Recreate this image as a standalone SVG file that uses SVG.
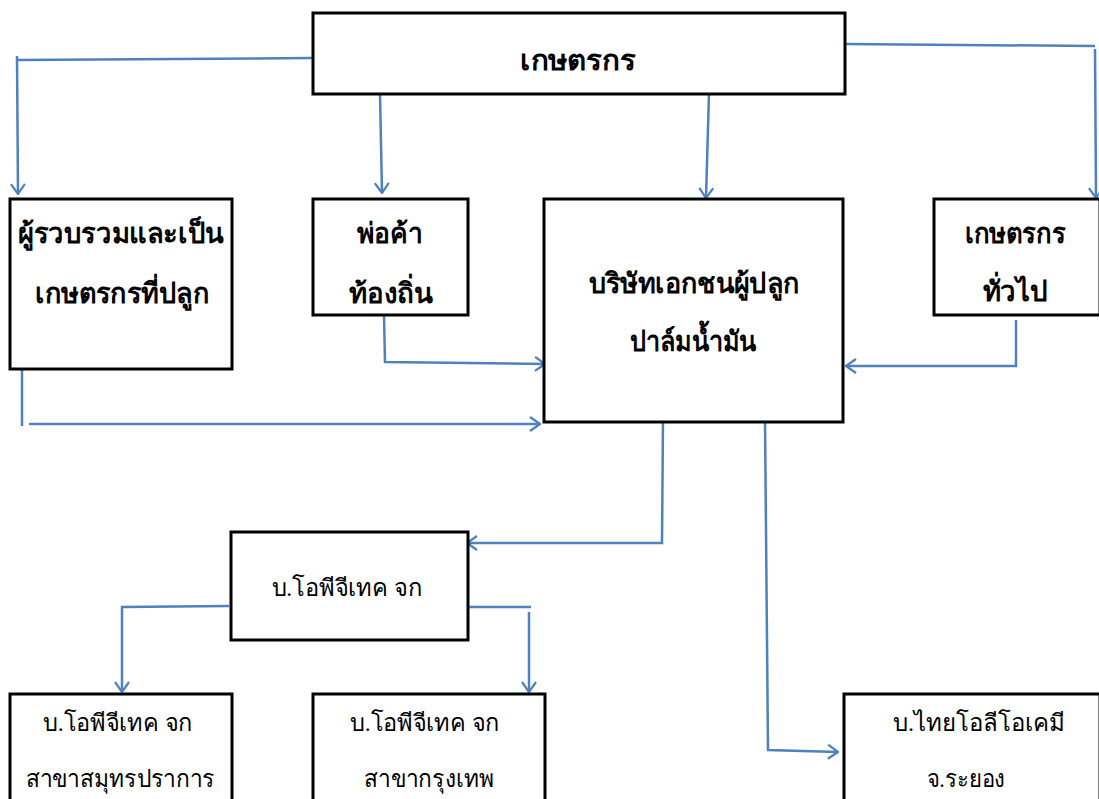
<svg xmlns="http://www.w3.org/2000/svg" width="1099" height="799" viewBox="0 0 1099 799">
<defs>
<marker id="ah" viewBox="0 0 12 16" refX="11" refY="8" markerWidth="12" markerHeight="16" markerUnits="userSpaceOnUse" orient="auto">
<path d="M1,1 L11,8 L1,15" fill="none" stroke="#4F81BD" stroke-width="2.2"/>
</marker>
<style>
.box{fill:#fff;stroke:#000;stroke-width:3}
.ln{fill:none;stroke:#4F81BD;stroke-width:2.5}
.t{font-family:"Liberation Serif","Noto Sans",serif;fill:#000;text-anchor:middle}
.b{font-weight:bold;font-size:28px}
.r{font-size:24px}
</style>
</defs>
<rect width="1099" height="799" fill="#fff"/>
<g id="connectors">
<polyline class="ln" points="313,58 17,60"/>
<line class="ln" x1="17" y1="56" x2="18" y2="194" marker-end="url(#ah)"/>
<line class="ln" x1="380" y1="95" x2="382" y2="193" marker-end="url(#ah)"/>
<line class="ln" x1="709" y1="93" x2="706" y2="198" marker-end="url(#ah)"/>
<polyline class="ln" points="845,44 1095,46"/>
<line class="ln" x1="1095" y1="49" x2="1096" y2="198" marker-end="url(#ah)"/>
<line class="ln" x1="22" y1="369" x2="22" y2="426"/>
<line class="ln" x1="29" y1="424" x2="540" y2="424" marker-end="url(#ah)"/>
<polyline class="ln" points="384,315 385,362 545,364" marker-end="url(#ah)"/>
<polyline class="ln" points="1016,320 1016,366 846,366" marker-end="url(#ah)"/>
<polyline class="ln" points="663,419 662,543 467,543" marker-end="url(#ah)"/>
<polyline class="ln" points="765,421 768,750 838,752" marker-end="url(#ah)"/>
<polyline class="ln" points="229,606 122,607 122,692" marker-end="url(#ah)"/>
<polyline class="ln" points="468,607 531,607"/>
<line class="ln" x1="529" y1="612" x2="529" y2="692" marker-end="url(#ah)"/>
</g>
<g id="n-farmer">
<rect class="box" x="313" y="13" width="532" height="81"/>
<text class="t b" x="578" y="70" font-size="30" textLength="116" lengthAdjust="spacingAndGlyphs">เกษตรกร</text>
</g>
<g id="n-collector">
<rect class="box" x="10" y="199" width="222" height="170"/>
<text class="t b" x="121" y="243" textLength="206" lengthAdjust="spacingAndGlyphs">ผู้รวบรวมและเป็น</text>
<text class="t b" x="122" y="303" textLength="174" lengthAdjust="spacingAndGlyphs">เกษตรกรที่ปลูก</text>
</g>
<g id="n-merchant">
<rect class="box" x="313" y="199" width="155" height="116"/>
<text class="t b" x="390" y="243" textLength="66" lengthAdjust="spacingAndGlyphs">พ่อค้า</text>
<text class="t b" x="391" y="303" textLength="84" lengthAdjust="spacingAndGlyphs">ท้องถิ่น</text>
</g>
<g id="n-company">
<rect class="box" x="544" y="199" width="299" height="223"/>
<text class="t b" x="694" y="293" textLength="211" lengthAdjust="spacingAndGlyphs">บริษัทเอกชนผู้ปลูก</text>
<text class="t b" x="693" y="351" textLength="127" lengthAdjust="spacingAndGlyphs">ปาล์มน้ำมัน</text>
</g>
<g id="n-general">
<rect class="box" x="934" y="199" width="166" height="116"/>
<text class="t b" x="1015" y="243" textLength="101" lengthAdjust="spacingAndGlyphs">เกษตรกร</text>
<text class="t b" x="1015" y="301" textLength="65" lengthAdjust="spacingAndGlyphs">ทั่วไป</text>
</g>
<g id="n-opg">
<rect class="box" x="231" y="532" width="237" height="108"/>
<text class="t r" x="347" y="596" textLength="151" lengthAdjust="spacingAndGlyphs">บ.โอพีจีเทค จก</text>
</g>
<g id="n-opg-sp">
<rect class="box" x="10" y="694" width="222" height="110"/>
<text class="t r" x="118" y="731" textLength="150" lengthAdjust="spacingAndGlyphs">บ.โอพีจีเทค จก</text>
<text class="t r" x="120" y="787" textLength="189" lengthAdjust="spacingAndGlyphs">สาขาสมุทรปราการ</text>
</g>
<g id="n-opg-bkk">
<rect class="box" x="313" y="694" width="232" height="110"/>
<text class="t r" x="425" y="731" textLength="150" lengthAdjust="spacingAndGlyphs">บ.โอพีจีเทค จก</text>
<text class="t r" x="429" y="787" textLength="130" lengthAdjust="spacingAndGlyphs">สาขากรุงเทพ</text>
</g>
<g id="n-thai">
<rect class="box" x="844" y="694" width="256" height="110"/>
<text class="t r" x="979" y="731" textLength="172" lengthAdjust="spacingAndGlyphs">บ.ไทยโอลีโอเคมี</text>
<text class="t r" x="966" y="787" textLength="79" lengthAdjust="spacingAndGlyphs">จ.ระยอง</text>
</g>
</svg>
